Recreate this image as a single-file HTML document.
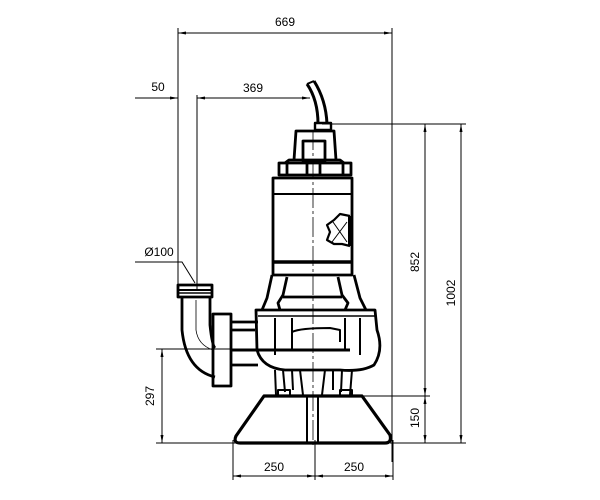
<!DOCTYPE html>
<html><head><style>body{margin:0;background:#fff}svg{display:block}text{font-family:"Liberation Sans",sans-serif;font-size:12px;fill:#000}</style></head>
<body>
<svg width="600" height="500" viewBox="0 0 600 500" xmlns="http://www.w3.org/2000/svg">
<defs><marker id="a" markerWidth="8" markerHeight="6" refX="8" refY="3" orient="auto-start-reverse" markerUnits="userSpaceOnUse"><path d="M0,1.5 L8,3 L0,4.5z" fill="#000"/></marker></defs>
<g stroke="#000" stroke-width="1" fill="none">
<line x1="178" y1="28" x2="178" y2="290"/>
<line x1="392" y1="28" x2="392" y2="462"/>
<line x1="197" y1="95" x2="197" y2="290"/>
<line x1="322" y1="124" x2="466" y2="124"/>
<line x1="350" y1="396" x2="430" y2="396"/>
<line x1="390" y1="443" x2="466" y2="443"/>
<line x1="156" y1="349" x2="250" y2="349"/>
<line x1="156" y1="443" x2="236" y2="443"/>
<line x1="233" y1="440" x2="233" y2="480"/>
<line x1="315" y1="440" x2="315" y2="480"/>
<line x1="393" y1="440" x2="393" y2="480"/>
<line x1="178" y1="33" x2="392" y2="33" marker-start="url(#a)" marker-end="url(#a)"/>
<line x1="135" y1="98" x2="178" y2="98" marker-end="url(#a)"/>
<line x1="197" y1="98" x2="310" y2="98" marker-start="url(#a)" marker-end="url(#a)"/>
<line x1="425" y1="124" x2="425" y2="396" marker-start="url(#a)" marker-end="url(#a)"/>
<line x1="425" y1="396" x2="425" y2="443" marker-start="url(#a)" marker-end="url(#a)"/>
<line x1="461" y1="124" x2="461" y2="443" marker-start="url(#a)" marker-end="url(#a)"/>
<line x1="162" y1="349" x2="162" y2="443" marker-start="url(#a)" marker-end="url(#a)"/>
<line x1="233" y1="476" x2="315" y2="476" marker-start="url(#a)" marker-end="url(#a)"/>
<line x1="315" y1="476" x2="393" y2="476" marker-start="url(#a)" marker-end="url(#a)"/>
<polyline points="135,262 182,262 195,283"/>
<line x1="313" y1="130" x2="313" y2="445" stroke-dasharray="20,3,3,3" stroke-width="0.8"/>
</g>
<g stroke="#000" stroke-width="2.8" fill="none" stroke-linejoin="round">
<path d="M307,84 Q318,100 318,124" stroke-width="3"/>
<path d="M314,81 Q326,100 327,124" stroke-width="3"/>
<path d="M307,84 L314,81" stroke-width="2"/>
<rect x="315" y="123" width="16" height="7" stroke-width="2.4"/>
<path d="M294,160 L296,131 L334,131 L336,160"/>
<rect x="303" y="141" width="22" height="20"/>
<path d="M285,163 L289,160 L340,160 L344,163"/>
<rect x="279" y="163" width="72" height="12"/>
<line x1="287" y1="163" x2="287" y2="175"/><line x1="343" y1="163" x2="343" y2="175"/>
<line x1="307" y1="163" x2="307" y2="175"/><line x1="320" y1="163" x2="320" y2="175"/>
<rect x="273" y="178" width="79" height="97"/>
<line x1="273" y1="194" x2="352" y2="194" stroke-width="2"/>
<line x1="273" y1="262" x2="352" y2="262" stroke-width="3.4"/>
<path d="M350,216 L340,214 L334,220 L327,225 L330,232 L327,240 L334,244 L342,244 L350,246" stroke-width="2.2"/>
<line x1="350" y1="216" x2="350" y2="246" stroke-width="4"/>
<path d="M333,222 L347,242 M347,222 L332,242" stroke-width="1"/>
<path d="M272,275 L267,298 L262,310 M287,277 L283,295 L278,303 L280,310 M338,277 L342,295 L348,303 L345,310 M354,275 L360,298 L366,310"/>
<path d="M283,297 L342,297"/>
<path d="M256,310 L375,310 L377,330 Q384,350 374,365 Q362,372 340,370 L285,370 Q262,368 257,350 Z"/>
<line x1="258" y1="316" x2="375" y2="316" stroke-width="1.5"/>
<path d="M275,318 L275,355 M292,318 L292,350 M345,318 L345,350 M360,318 L360,355" stroke-width="2"/>
<line x1="232" y1="350" x2="350" y2="350" stroke-width="3"/>
<path d="M292,342 L292,332 Q300,328 330,328 L340,330 L340,342" stroke-width="2"/>
<path d="M275,370 L276,395 M283,370 L285,392 M292,370 L293,390 M300,370 L303,395 M325,370 L322,395 M333,370 L333,390 M342,370 L341,392 M352,370 L350,395" stroke-width="2"/>
<rect x="278" y="390" width="12" height="6" stroke-width="2"/>
<rect x="340" y="390" width="12" height="6" stroke-width="2"/>
<rect x="178" y="285" width="34" height="12" stroke-width="2.8"/>
<line x1="178" y1="290" x2="212" y2="290" stroke-width="2"/>
<line x1="178" y1="293" x2="212" y2="293" stroke-width="1.5"/>
<path d="M182,297 L182,330 Q186,370 215,377"/>
<path d="M210,297 L210,325 Q212,345 215,348"/>
<path d="M196,300 L196,330 Q198,345 213,350" stroke-width="0.8"/>
<rect x="213" y="314" width="18" height="72"/>
<path d="M231,322 L258,322 M231,365 L258,365 M231,330 L255,330"/>
<path d="M264,396 L362,396 L390,435 Q392,443 385,443 L240,443 Q233,443 236,436 Z" stroke-width="3.2"/>
<rect x="307" y="396" width="11" height="47" stroke-width="2"/>
</g>
<text x="285" y="26" text-anchor="middle">669</text>
<text x="158" y="91" text-anchor="middle">50</text>
<text x="253" y="92" text-anchor="middle">369</text>
<text x="159" y="256" text-anchor="middle">Ø100</text>
<text x="274" y="471" text-anchor="middle">250</text>
<text x="354" y="471" text-anchor="middle">250</text>
<text transform="translate(419,262) rotate(-90)" text-anchor="middle">852</text>
<text transform="translate(455,293) rotate(-90)" text-anchor="middle">1002</text>
<text transform="translate(419,418) rotate(-90)" text-anchor="middle">150</text>
<text transform="translate(154,396) rotate(-90)" text-anchor="middle">297</text>
</svg>
</body></html>
